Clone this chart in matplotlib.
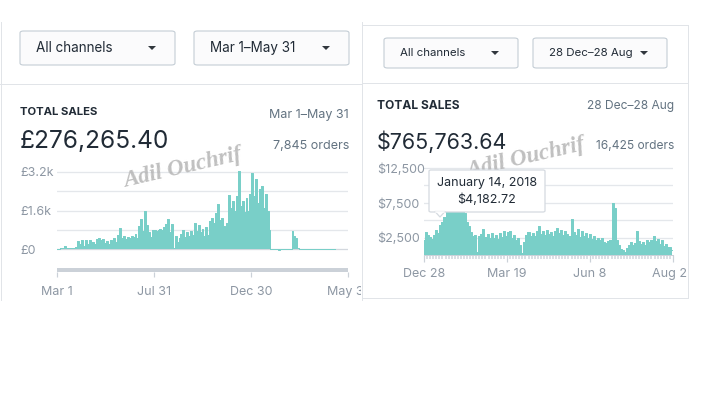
import numpy as np
import matplotlib.pyplot as plt
from matplotlib.patches import FancyBboxPatch, Polygon
from matplotlib.transforms import Bbox, TransformedBbox

# left dashboard: daily sales in thousands of pounds, one value per 3 days from Mar 1
left_step = 3
left_sales_k = [
    0.02, 0.02, 0.03, 0.05, 0.14, 0.03, 0.04, 0.03, 0.05, 0.04,
    0.10, 0.35, 0.22, 0.38, 0.12, 0.36, 0.20, 0.38, 0.15, 0.30,
    0.20, 0.42, 0.45, 0.38, 0.42, 0.25, 0.35, 0.22, 0.38, 0.30,
    0.45, 0.30, 0.60, 0.88, 0.45, 0.55, 0.40, 0.50, 0.45, 0.55,
    0.48, 0.62, 0.45, 0.95, 1.25, 0.75, 1.60, 1.00, 0.72, 0.50,
    0.78, 0.80, 0.75, 0.80, 0.85, 0.80, 0.90, 1.05, 1.25, 0.70,
    1.05, 0.05, 0.55, 0.30, 0.45, 0.62, 0.80, 0.50, 0.70, 0.55,
    0.75, 0.60, 1.10, 0.75, 1.00, 0.70, 0.85, 0.55, 0.90, 0.60,
    1.15, 1.30, 1.10, 1.50, 1.85, 1.20, 1.30, 0.95, 0.50, 1.10,
    2.25, 1.70, 2.00, 1.60, 2.20, 3.25, 1.80, 2.00, 1.55, 2.10,
    1.60, 2.30, 3.15, 2.20, 2.90, 1.90, 2.50, 2.60, 1.70, 2.30,
    1.60, 0.80, 0.00, 0.00, 0.00, 0.00, -0.04, 0.00, 0.00, 0.00,
    0.00, 0.00, 0.00, 0.75, 0.55, 0.45, 0.05, 0.00, 0.00, 0.00,
    0.00, 0.00, 0.00, 0.00, 0.00, 0.00, 0.00, 0.00, 0.00, 0.00,
    0.00, 0.00, 0.00, 0.00, 0.00, 0.00,
]
left_span_days = 456
left_tick_days = [0, 152, 304, 456]
left_tick_labels = ["Mar 1", "Jul 31", "Dec 30", "May 31"]
left_ytick_vals = [0, 1.6, 3.2]
left_ytick_labels = ["£0", "£1.6k", "£3.2k"]
left_grid_vals = [0, 0.8, 1.6, 2.4, 3.2]

# right dashboard: daily sales in dollars, one value per 2 days from Dec 28
right_step = 2
right_sales = [
    2200, 3300, 2900, 2600, 2300, 2900, 3600, 3200, 4300, 4800,
    5500, 6200, 6500, 6700, 6500, 6800, 6600, 6400, 6700, 6500,
    6000, 4800, 4200, 3300, 2700, 2900, 400, 2800, 3000, 3800,
    2600, 3000, 2400, 3200, 2500, 2900, 2300, 3100, 2600, 3400,
    2800, 3300, 3500, 2400, 2900, 2200, 2500, 1500, 250, 1800,
    2900, 3300, 2800, 3200, 2700, 3500, 4100, 3000, 3400, 2900,
    3600, 3000, 3300, 2800, 3500, 3900, 3200, 3600, 2900, 3400,
    3000, 2700, 5200, 3300, 2900, 3700, 2600, 3400, 2700, 3100,
    2500, 3000, 2300, 2700, 2100, 2500, 2200, 2400, 1900, 1700,
    2000, 2200, 7500, 6800, 2200, 1400, 900, 700, 500, 1000,
    1500, 1900, 1400, 1700, 3500, 2000, 1600, 1900, 1500, 2100,
    1800, 2200, 2800, 2000, 2300, 1600, 2100, 1300, 1600, 1100,
    1200, 700,
]
right_span_days = 243
right_tick_days = [0, 81, 162, 243]
right_tick_labels = ["Dec 28", "Mar 19", "Jun 8", "Aug 28"]
right_ytick_vals = [2500, 7500, 12500]
right_ytick_labels = ["$2,500", "$7,500", "$12,500"]
right_grid_vals = [2500, 5000, 7500, 10000, 12500]

W, H = 705, 397
TEAL = "#79cfc8"
INK = "#212b36"
SUB = "#637381"
AXIS_TXT = "#8d97a3"
GRID = "#e4e7eb"
BORDER = "#e1e4e8"

plt.rcParams["font.family"] = ["Inter", "DejaVu Sans"]

fig = plt.figure(figsize=(W / 100, H / 100), dpi=100)
fig.patch.set_facecolor("white")


def fx(x):
    return x / W


def fy(y):
    return 1 - y / H


def pt(px):
    # pixel sizes -> points at 100 dpi
    return px * 0.72


def add_ax(x0, y0, x1, y1):
    return fig.add_axes([fx(x0), fy(y1), fx(x1 - x0), (y1 - y0) / H])


def hline(x0, x1, y, color=BORDER, lw=1.0):
    fig.add_artist(plt.Line2D([fx(x0), fx(x1)], [fy(y), fy(y)], color=color,
                              lw=pt(lw), transform=fig.transFigure))


def vline(x, y0, y1, color=BORDER, lw=1.0):
    fig.add_artist(plt.Line2D([fx(x), fx(x)], [fy(y0), fy(y1)], color=color,
                              lw=pt(lw), transform=fig.transFigure))


def text(x, y, s, size, color=INK, ha="left", weight="normal", **kw):
    return fig.text(fx(x), fy(y), s, fontsize=pt(size), color=color, ha=ha,
                    va="center", fontweight=weight, **kw)


def dropdown(x0, y0, x1, y1, label, size):
    box = FancyBboxPatch((fx(x0), fy(y1)), fx(x1 - x0), (y1 - y0) / H,
                         boxstyle="round,pad=0,rounding_size=0.005",
                         transform=fig.transFigure, facecolor="#fbfbfc",
                         edgecolor="#c4cdd5", lw=0.8)
    fig.add_artist(box)
    cy = (y0 + y1) / 2
    text(x0 + 16, cy, label, size)
    cx = x1 - 23
    tri = Polygon([[fx(cx - 4), fy(cy - 2)], [fx(cx + 4), fy(cy - 2)], [fx(cx), fy(cy + 2)]],
                  closed=True, transform=fig.transFigure, color="#31373d", lw=0)
    fig.add_artist(tri)


def clip_to(artist, x0, x1):
    artist.set_clip_box(TransformedBbox(Bbox.from_extents(fx(x0), 0, fx(x1), 1), fig.transFigure))
    artist.set_clip_on(True)


def watermark(x, y):
    text(x, y, "Adil Ouchrif", 23, color="#b5b5b5", ha="center", weight="bold",
         family="Liberation Serif", style="italic", rotation=13, alpha=0.85)


# panel frames
vline(1, 22, 300)
vline(362, 22, 300)
hline(0, 362, 84)
hline(362, 688, 25)
hline(362, 688, 83)
hline(362, 688, 298)
vline(688, 25, 298)

# ---------- left dashboard ----------
dropdown(20, 31, 175, 65, "All channels", 13.5)
dropdown(194, 31, 349, 65, "Mar 1\u2013May 31", 13.5)
text(20, 112, "TOTAL SALES", 11.3, weight="bold")
text(349, 115, "Mar 1\u2013May 31", 12.5, color=SUB, ha="right")
text(20, 142, "£276,265.40", 24.5)
text(349, 146, "7,845 orders", 12.5, color=SUB, ha="right")

left_days = np.arange(len(left_sales_k)) * left_step
ax1 = add_ax(57, 165, 348, 252)
ax1.set_xlim(0, left_span_days)
ax1.set_ylim(-3 * 3.2 / 77, 3.2 + 7 * 3.2 / 77)
for g in left_grid_vals:
    ax1.axhline(g, color=GRID if g else "#d3d8de", lw=pt(1.3), zorder=0)
ax1.fill_between(left_days, left_sales_k, 0, step="mid", color=TEAL, lw=0, zorder=2)
ax1.plot(left_days, left_sales_k, drawstyle="steps-mid", color=TEAL, lw=pt(1), zorder=2)
for s in ax1.spines.values():
    s.set_visible(False)
ax1.set_xticks([])
ax1.set_yticks(left_ytick_vals, left_ytick_labels)
ax1.tick_params(axis="y", length=0, pad=pt(37), labelsize=pt(12.5), labelcolor=AXIS_TXT)
for lbl in ax1.get_yticklabels():
    lbl.set_horizontalalignment("left")
ax1.patch.set_alpha(0)

# range slider below the chart
ax1s = add_ax(57, 268, 348, 272)
ax1s.set_xlim(0, left_span_days)
ax1s.set_facecolor("#cbd1d8")
for s in ax1s.spines.values():
    s.set_visible(False)
ax1s.set_yticks([])
ax1s.set_xticks(left_tick_days, left_tick_labels)
ax1s.tick_params(axis="x", length=pt(5), width=pt(1.2), color="#cbd1d8", pad=pt(9),
                 labelsize=pt(12.5), labelcolor=AXIS_TXT)
for lbl in ax1s.get_xticklabels():
    clip_to(lbl, 0, 361)

watermark(183, 168)

# ---------- right dashboard ----------
dropdown(384, 38, 518, 68, "All channels", 11.5)
dropdown(533, 38, 667, 68, "28 Dec\u201328 Aug", 11.5)
text(377, 106, "TOTAL SALES", 12, weight="bold")
text(674, 106, "28 Dec\u201328 Aug", 12, color=SUB, ha="right")
text(377, 142, "$765,763.64", 21.5)
text(674, 146, "16,425 orders", 12, color=SUB, ha="right")

right_days = np.arange(len(right_sales)) * right_step
ax2 = add_ax(424, 165, 673, 255)
ax2.set_xlim(0, right_span_days)
px_per_k = 87 / 12.5
ax2.set_ylim(0, 12500 + 3 / px_per_k * 1000)
for g in right_grid_vals:
    ax2.axhline(g, color=GRID, lw=pt(1.3), zorder=0)
ax2.fill_between(right_days, right_sales, 0, step="mid", color=TEAL, lw=0, zorder=2)
ax2.plot(right_days, right_sales, drawstyle="steps-mid", color=TEAL, lw=pt(1), zorder=2)
for k, s in ax2.spines.items():
    s.set_visible(k == "bottom")
ax2.spines["bottom"].set_color("#cbd1d8")
ax2.spines["bottom"].set_linewidth(pt(1))
ax2.set_yticks(right_ytick_vals, right_ytick_labels)
ax2.tick_params(axis="y", length=0, pad=pt(47), labelsize=pt(12.5), labelcolor=AXIS_TXT)
for lbl in ax2.get_yticklabels():
    lbl.set_horizontalalignment("left")
ax2.set_xticks(right_tick_days, right_tick_labels)
ax2.set_xticks(np.arange(0, right_span_days + 1, 3), minor=True)
ax2.tick_params(axis="x", which="major", length=pt(7), width=pt(1.2), color="#cbd1d8",
                pad=pt(6), labelsize=pt(12.5), labelcolor=AXIS_TXT)
ax2.tick_params(axis="x", which="minor", length=pt(4), width=pt(1.6), color="#d3d8de")
for lbl in ax2.get_xticklabels():
    clip_to(lbl, 363, 687)
ax2.patch.set_alpha(0)

# tooltip
tip = FancyBboxPatch((fx(429), fy(212)), fx(116), 42 / H,
                     boxstyle="round,pad=0,rounding_size=0.003",
                     transform=fig.transFigure, facecolor="white",
                     edgecolor="#d5dae0", lw=0.9, zorder=5)
fig.add_artist(tip)
ptr = Polygon([[fx(435), fy(211.5)], [fx(445), fy(211.5)], [fx(440), fy(217)]],
              closed=True, transform=fig.transFigure, facecolor="white",
              edgecolor="#d5dae0", lw=0.9, zorder=5)
fig.add_artist(ptr)
fig.add_artist(plt.Line2D([fx(435.6), fx(444.4)], [fy(212), fy(212)], color="white",
                          lw=pt(1.5), transform=fig.transFigure, zorder=6))
text(487, 183, "January 14, 2018", 12.5, ha="center", zorder=7)
text(487, 200, "$4,182.72", 12.5, ha="center", zorder=7)

watermark(526, 158)

fig.savefig("out.png", dpi=100, facecolor="white")
